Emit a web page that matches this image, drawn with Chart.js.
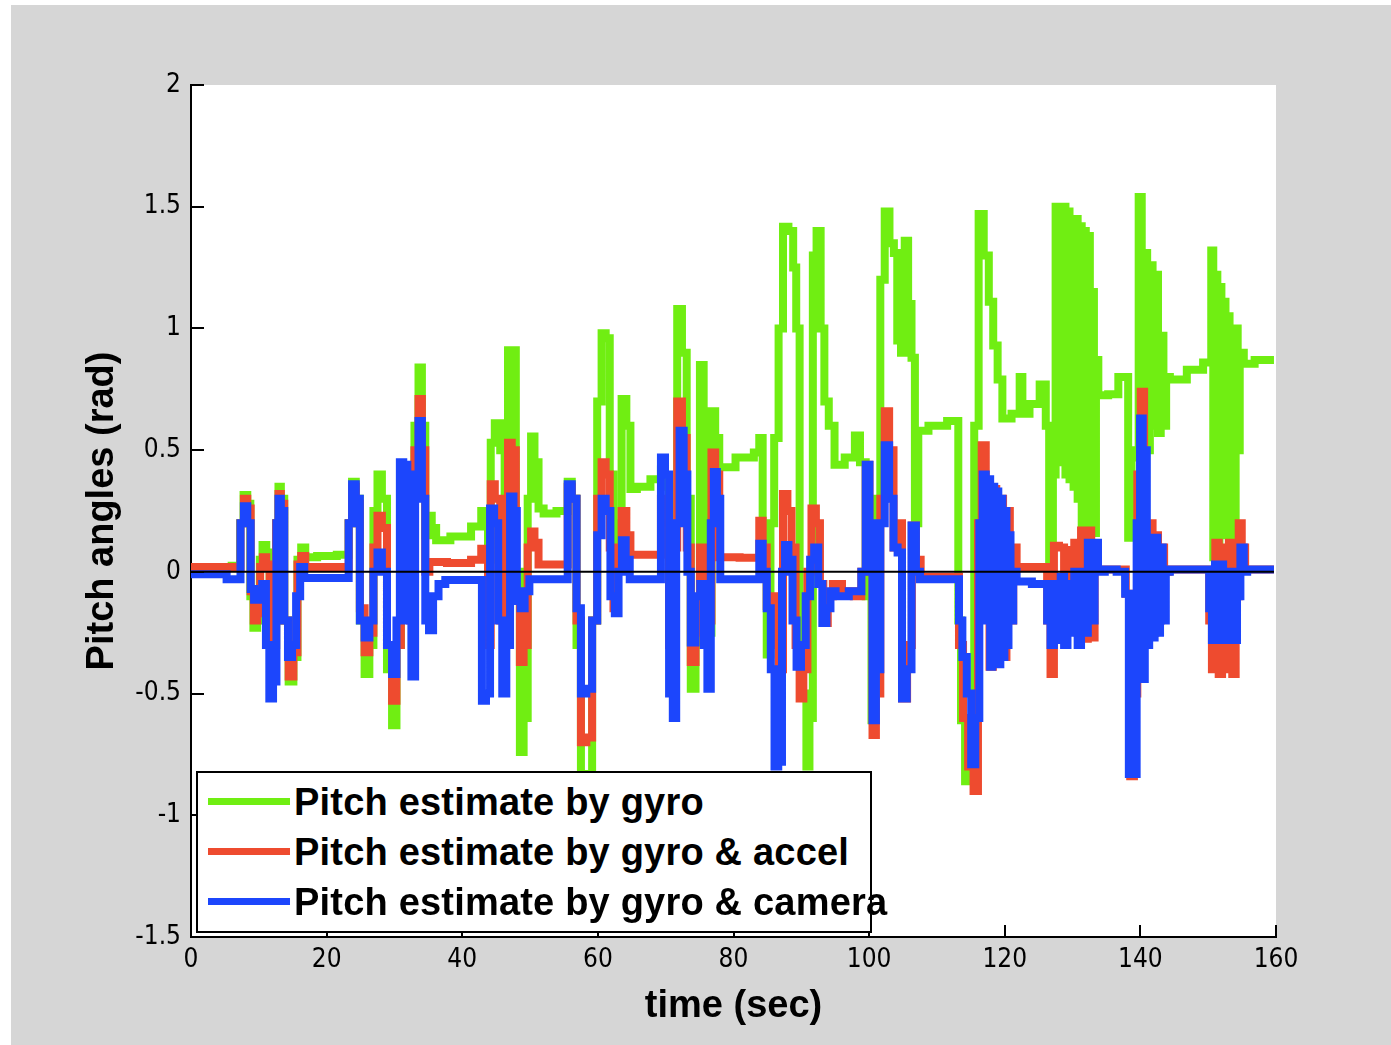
<!DOCTYPE html>
<html><head><meta charset="utf-8">
<script src="https://cdn.jsdelivr.net/npm/chart.js@4.4.1/dist/chart.umd.min.js"></script>
<style>
html,body{margin:0;padding:0;background:#fff;width:1391px;height:1045px;overflow:hidden;}
#fig{position:absolute;left:11px;top:5px;width:1380px;height:1040px;background:#d6d6d6;}
#wrap{position:absolute;left:0;top:0;width:1391px;height:1045px;}
#legend{position:absolute;left:196px;top:771px;width:676px;height:162px;box-sizing:border-box;border:2px solid #000;background:#fff;overflow:visible;}
.swatch{position:absolute;left:10px;width:82px;height:7px;}
.ltext{position:absolute;left:96px;font:bold 38px 'Liberation Sans',Arial,sans-serif;line-height:38px;white-space:nowrap;color:#000;letter-spacing:0.2px;}
</style></head>
<body>
<div id="fig"></div>
<div id="wrap"><canvas id="c" width="1391" height="1045"></canvas></div>
<div id="legend"></div>
<script>
// ---- data ----
const seriesLabels = ['Pitch estimate by gyro','Pitch estimate by gyro & accel','Pitch estimate by gyro & camera'];
const seriesColors = ['#70ee12','#ee4b2f','#1c46fc'];
const xTickValues = [0,20,40,60,80,100,120,140,160];
const yTickValues = [-1.5,-1,-0.5,0,0.5,1,1.5,2];
const zeroLineTime = [0,159.7];
const zeroLineValue = [0,0];

const gyroTime = [0,5,7,7.5,8,8.6,8.9,9.5,10,10.3,10.8,11.4,11.8,12.3,12.8,13,13.5,14,14.8,15.4,16,16.5,17.2,20,23,23.5,24,24.6,25.2,26,26.6,27.2,27.8,28.5,29.3,30,30.6,31.3,32,32.6,33.3,33.8,34.3,34.8,35.2,35.8,36.5,40,42.6,43,43.6,44,44.4,45.2,46,46.5,47,47.6,48.2,48.8,49.3,50,50.3,51,51.5,52.5,55.3,55.8,56.5,57.2,57.8,58.8,59.5,60.3,60.8,61.5,62,62.6,63.2,63.8,64.6,65,66.5,69,69.6,70.2,70.8,71.4,72,72.8,73.4,74,74.8,75.3,75.9,76.5,77,77.6,78.2,82.4,83.6,84,84.6,85.2,85.7,86.3,87,87.6,88.6,89,89.5,90,90.5,91,91.4,92,92.5,93.2,93.6,94.5,95.3,97.5,98.3,99,100,100.7,101.3,102,102.6,103.4,103.9,104.4,105,105.5,106,106.5,107,107.5,110,113,113.3,113.8,114.5,115.2,115.8,116.5,117.3,118,118.6,119.3,120,122,122.4,122.8,124.5,125.8,126.3,126.8,127.4,127.6,127.9,128.2,128.5,128.8,129.1,129.4,129.7,130,130.3,130.6,130.9,131.2,131.5,131.8,132.1,132.4,132.7,133,133.3,133.6,134,136.5,137,138,138.4,139,139.5,140,140.4,140.8,141.2,141.6,142,142.4,142.8,143.2,143.6,144,144.7,149,149.5,150.3,150.6,150.9,151.2,151.5,151.8,152.1,152.4,152.7,153,153.3,153.6,153.9,154.2,154.5,154.8,155.7,158,159.7];
const gyroPitch = [0.02,0.02,0.025,0.2,0.316,0.28,-0.1,-0.23,-0.2,0.05,0.11,0.08,-0.1,-0.3,0.2,0.35,0.3,-0.2,-0.45,-0.35,0.05,0.1,0.06,0.065,0.07,0.2,0.37,0.3,-0.2,-0.42,-0.3,0.25,0.4,0.3,-0.4,-0.63,-0.3,0.28,-0.05,-0.18,0.6,0.84,0.6,0.15,0.23,0.18,0.13,0.145,0.186,0.25,0.25,0.05,0.53,0.61,0.5,0.2,0.91,0.91,0,-0.74,-0.6,0.3,0.556,0.45,0.26,0.24,0.25,0.37,0.3,-0.3,-0.83,-0.83,-0.2,0.7,0.98,0.96,0.4,-0.05,0.2,0.71,0.6,0.34,0.35,0.38,0.42,0.35,-0.25,0.2,1.08,0.9,0.3,-0.48,-0.3,0.85,0.6,-0.25,0.66,0.55,0.43,0.47,0.49,0.55,0.2,-0.34,0.2,0.55,1.0,1.418,1.4,1.25,1.0,-0.14,-0.5,-0.8,-0.6,1.3,1.4,1.0,0.7,0.6,0.44,0.47,0.56,0.45,-0.1,-0.61,0.3,1.2,1.48,1.35,1.31,0.95,0.9,1.36,1.1,0.88,0.2,0.58,0.6,0.62,-0.2,-0.61,-0.86,-0.7,0.6,1.47,1.3,1.11,0.93,0.79,0.63,0.65,0.8,0.65,0.69,0.77,0.6,-0.05,0.4,1.5,0.45,1.5,0.45,1.5,0.4,1.48,0.38,1.45,0.35,1.45,0.3,1.42,0.2,1.4,0.18,1.38,0.16,1.15,0.16,0.87,0.725,0.73,0.8,0.8,0.14,0.5,0.47,1.54,0.6,1.31,0.5,1.26,0.6,1.22,0.57,0.97,0.6,0.8,0.79,0.83,0.86,0.86,1.32,0.06,1.22,0.1,1.17,0.15,1.11,0.2,1.05,0.15,1.0,0.2,1.0,0.5,0.9,0.855,0.87,0.87];

const accelTime = [0,7,7.6,8,8.6,9,9.5,10,10.4,10.8,11.4,11.8,12.3,12.8,13,13.5,14,14.8,15.4,16,16.5,17.2,23,23.5,24,24.6,25.2,26,26.6,27.2,27.8,28.5,29.3,30,30.6,31.3,32,32.6,33.3,33.8,34.3,34.8,35.5,40,42.6,43,43.6,44,44.4,45.2,46,46.5,47,47.6,48.2,48.8,49.3,50,50.3,51,51.5,55.3,55.8,56.5,57.2,57.8,58.8,59.5,60.3,60.8,61.5,62,62.6,63.2,63.8,64.6,65,69,69.6,70.2,70.8,71.4,72,72.8,73.4,74,74.8,75.3,75.9,76.5,77,77.6,78.2,83.6,84,84.6,85.2,85.7,86.3,87,87.6,88.3,88.8,89.5,90,90.6,91.2,91.8,92.5,93,93.5,94.3,95,97,98.5,99.2,99.8,100.3,100.7,101.3,102,102.6,103.3,103.9,104.5,105.2,106,106.6,107.2,108,113,113.5,114.2,115,115.8,116.3,116.9,117.5,118,118.5,119,119.5,120,120.5,121,121.5,122,126,126.5,127,127.5,128.5,129,129.5,130,130.5,131,131.5,132,132.5,133,133.5,134,137.5,138.2,138.8,139.3,139.8,140.3,140.8,141.2,141.6,142,142.4,142.8,143.2,143.8,144.5,150,150.3,150.8,151.3,151.8,152.3,152.8,153.3,153.8,154.3,154.7,155.2,155.7,159.7];
const accelPitch = [0.02,0.02,0.2,0.3,0.26,-0.08,-0.2,-0.17,0.02,0.06,0.03,-0.1,-0.3,0.2,0.32,0.28,-0.2,-0.43,-0.33,0.03,0.065,0.02,0.02,0.2,0.35,0.28,-0.15,-0.33,-0.25,0.1,0.23,0.18,-0.3,-0.53,-0.3,0.3,-0.05,-0.2,0.5,0.71,0.5,0,0.04,0.036,0.05,0.095,0.08,-0.3,0.36,0.3,-0.2,-0.1,0.53,0.5,-0.1,-0.37,-0.3,0.1,0.166,0.12,0.03,0.03,0.35,0.3,-0.2,-0.7,-0.68,-0.2,0.3,0.45,0.4,0.1,-0.15,0.1,0.25,0.15,0.07,0.07,0.3,0.2,-0.3,0.1,0.7,0.55,0.1,-0.37,-0.25,0.1,0,-0.2,0.49,0.4,0.06,0.058,0.21,0.1,-0.14,-0.1,-0.3,-0.4,0.32,0.25,0.1,-0.3,-0.52,-0.4,0,0.26,0.2,-0.05,-0.21,-0.1,-0.05,-0.08,-0.1,0,0.44,0.1,-0.67,-0.5,0.3,0.66,0.5,0.1,0.2,-0.52,-0.3,0.19,0.05,-0.02,-0.02,-0.3,-0.6,-0.8,-0.9,0.2,0.52,0.35,-0.39,0.34,-0.3,0.3,-0.35,0.25,-0.2,0.1,0.02,0.02,-0.2,-0.42,0.107,0.1,-0.2,0.09,-0.22,0.12,-0.25,0.17,-0.275,0.17,-0.27,0.05,0.01,0.01,-0.09,-0.84,-0.5,0.4,0.74,0.2,-0.2,0.2,-0.25,0.15,-0.2,0.1,0,0.01,0.01,-0.2,-0.4,0.12,-0.42,0.1,-0.4,0.12,-0.42,-0.1,0.2,0.1,0.01,0.01];

const cameraTime = [0,5,5.5,7,7.6,8,8.6,9,9.6,10.2,10.8,11.3,11.8,12.4,12.8,13,13.5,14,14.6,15.2,15.8,16.4,17,23,23.5,24,24.6,25.2,26,26.6,27.2,27.8,28.5,29.3,30,30.6,31,31.6,32.2,32.8,33.3,33.8,34.3,34.8,35.4,36,37,38,42.6,43.2,43.8,44.4,45,45.6,46.2,46.8,47.3,47.8,48.3,48.9,49.5,50.3,55.3,55.8,56.5,57.2,57.8,58.8,59.5,60.3,60.8,61.5,62.2,62.8,63.3,63.8,64.4,65,69,69.6,70.2,70.8,71.3,71.8,72.3,73,73.4,74,74.8,75.4,75.9,76.4,76.9,77.3,77.8,78.3,83.6,84,84.6,85.2,85.8,86.3,86.9,87.4,87.8,88.4,89,89.6,90.3,91,91.6,92.2,92.8,93.4,94,94.6,95.5,98.5,99.2,99.8,100.3,100.7,101.3,102,102.6,103.3,103.9,104.5,105.2,105.9,106.6,107.2,107.8,113,113.5,114,114.8,115.3,116,116.5,117,117.4,117.7,118,118.3,118.6,118.9,119.2,119.5,119.8,120.1,120.4,120.7,121,121.5,122,126,126.5,127,127.5,128,128.5,129,129.5,130,130.5,131,131.5,132,132.5,133,133.5,134,135.5,137.5,138,138.6,139.2,139.7,140.2,140.5,140.8,141.1,141.5,141.9,142.3,142.7,143.1,143.5,144,144.7,150,150.3,150.8,151.2,151.6,152,152.4,152.8,153.2,153.6,154,154.5,155,155.5,156,159.7];
const cameraPitch = [-0.01,-0.01,-0.03,-0.03,0.2,0.27,0.2,-0.07,-0.115,-0.08,-0.05,-0.3,-0.52,-0.45,0.2,0.3,0.25,-0.2,-0.35,-0.3,-0.1,0.02,-0.025,-0.025,0.2,0.36,0.3,-0.2,-0.27,-0.2,0,0.08,0,-0.3,-0.42,-0.2,0.45,0.44,-0.2,-0.43,0.4,0.62,0.3,-0.2,-0.24,-0.1,-0.05,-0.033,-0.033,-0.53,-0.5,0.26,0.2,-0.2,-0.5,-0.3,0.31,0.25,-0.12,-0.15,-0.08,-0.03,-0.03,0.36,0.3,-0.15,-0.5,-0.48,-0.2,0.15,0.3,0.25,-0.1,-0.17,0,0.13,0.05,-0.03,-0.03,0.47,0.4,-0.5,-0.6,0.2,0.58,0.4,0,-0.29,-0.1,-0.05,-0.3,-0.48,0.2,0.41,0.3,-0.03,-0.03,0.115,0,-0.15,-0.4,-0.8,-0.78,0,0.11,0.05,-0.2,-0.39,-0.3,-0.1,0.05,0.1,-0.05,-0.21,-0.15,-0.08,-0.1,-0.08,0,0.44,0.2,-0.61,-0.4,0.2,0.52,0.3,0.1,0.08,-0.52,-0.4,0.19,0,-0.03,-0.03,-0.2,-0.35,-0.5,-0.79,-0.6,0.2,0.4,-0.2,0.38,-0.39,0.35,-0.35,0.33,-0.38,0.3,-0.35,0.25,-0.3,0.15,-0.2,0,-0.04,-0.05,-0.2,-0.3,-0.05,-0.28,-0.02,-0.3,-0.05,-0.25,0,-0.3,0,-0.25,0.12,-0.2,0.12,0,0.01,0,-0.09,-0.83,-0.83,0.2,0.63,-0.44,0.5,-0.3,0.14,-0.27,0.14,-0.25,0.1,-0.2,0,0.01,0.01,-0.15,-0.28,0.03,-0.28,0.03,-0.28,0,-0.28,0,-0.28,-0.1,0.1,0,0.01,0.01];

// ---- build ----
const zip = (t, v) => t.map((x, i) => ({x, y: v[i]}));
const tickFont = {family: "'Liberation Sans Narrow','DejaVu Sans Condensed','Liberation Sans',sans-serif", size: 26};
const titleFont = {family: "'Liberation Sans',Arial,sans-serif", size: 38, weight: 'bold'};

const plotBg = {
  id: 'plotBg',
  beforeDraw(chart) {
    const {ctx, chartArea: a} = chart;
    ctx.save(); ctx.fillStyle = '#fff';
    ctx.fillRect(a.left, a.top, a.right - a.left, a.bottom - a.top);
    ctx.restore();
  }
};
const inwardTicks = {
  id: 'inwardTicks',
  afterDraw(chart) {
    const {ctx, chartArea: a, scales: {x, y}} = chart;
    ctx.save(); ctx.strokeStyle = '#000'; ctx.lineWidth = 2; ctx.beginPath();
    x.ticks.forEach(t => { const p = Math.round(x.getPixelForValue(t.value)); ctx.moveTo(p, a.bottom); ctx.lineTo(p, a.bottom - 12); });
    y.ticks.forEach(t => { const p = Math.round(y.getPixelForValue(t.value)); ctx.moveTo(a.left, p); ctx.lineTo(a.left + 13, p); });
    ctx.stroke(); ctx.restore();
  }
};

const lineCommon = {pointRadius: 0, borderWidth: 8, stepped: 'middle', borderJoinStyle: 'miter', borderCapStyle: 'butt', fill: false};

new Chart(document.getElementById('c'), {
  type: 'line',
  data: {
    datasets: [
      {label: 'zero', data: zip(zeroLineTime, zeroLineValue), borderColor: '#000', borderWidth: 2, pointRadius: 0, order: 0},
      {...lineCommon, label: seriesLabels[2], data: zip(cameraTime, cameraPitch), borderColor: seriesColors[2], order: 1},
      {...lineCommon, label: seriesLabels[1], data: zip(accelTime, accelPitch), borderColor: seriesColors[1], order: 2},
      {...lineCommon, label: seriesLabels[0], data: zip(gyroTime, gyroPitch), borderColor: seriesColors[0], order: 3}
    ]
  },
  options: {
    responsive: false, animation: false, devicePixelRatio: 1,
    layout: {padding: {left: 0, top: 85, right: 115, bottom: 0}},
    plugins: {legend: {display: false}, tooltip: {enabled: false}},
    scales: {
      x: {
        type: 'linear', min: 0, max: 160,
        afterBuildTicks: s => { s.ticks = xTickValues.map(v => ({value: v})); },
        afterFit: s => { s.height = 108; },
        grid: {display: false, drawTicks: false},
        border: {display: true, color: '#000', width: 2},
        ticks: {color: '#000', font: tickFont, padding: 8, maxRotation: 0, callback: v => String(v)},
        title: {display: true, text: 'time (sec)', color: '#000', font: titleFont, padding: {top: 0, bottom: 16}}
      },
      y: {
        type: 'linear', min: -1.5, max: 2,
        afterBuildTicks: s => { s.ticks = yTickValues.map(v => ({value: v})); },
        afterFit: s => { s.width = 191; },
        grid: {display: false, drawTicks: false},
        border: {display: true, color: '#000', width: 2},
        ticks: {color: '#000', font: tickFont, padding: 10, callback: v => String(v)},
        title: {display: true, text: 'Pitch angles (rad)', color: '#000', font: titleFont, padding: {top: 80, bottom: 0}}
      }
    }
  },
  plugins: [plotBg, inwardTicks]
});

// legend built from the series arrays
const lg = document.getElementById('legend');
seriesLabels.forEach((lab, i) => {
  const sw = document.createElement('div');
  sw.className = 'swatch'; sw.style.background = seriesColors[i]; sw.style.top = (25.2 + 50 * i) + 'px';
  const tx = document.createElement('div');
  tx.className = 'ltext'; tx.textContent = lab; tx.style.top = (10 + 50 * i) + 'px';
  lg.appendChild(sw); lg.appendChild(tx);
});
</script>
</body></html>
